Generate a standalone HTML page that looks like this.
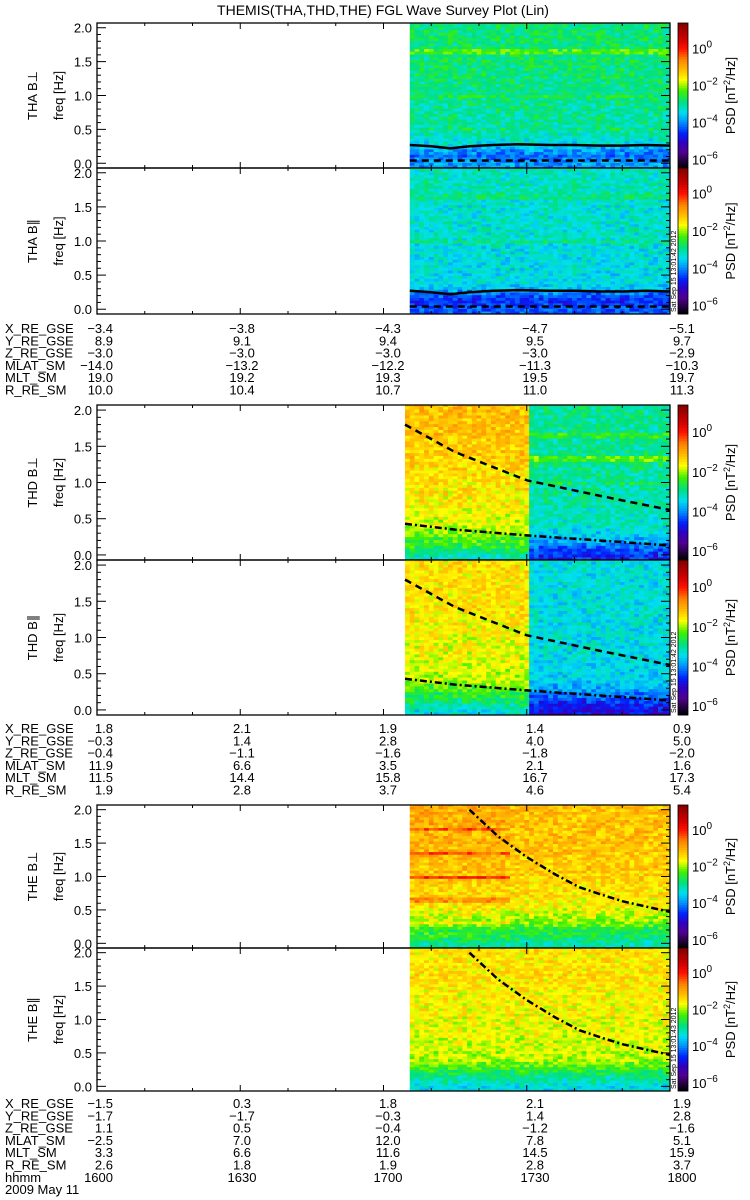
<!DOCTYPE html>
<html><head><meta charset="utf-8">
<style>
html,body{margin:0;padding:0;background:#fff;}
svg{display:block;font-family:"Liberation Sans",sans-serif;}
</style></head>
<body>
<svg id="chart" width="750" height="1200" viewBox="0 0 750 1200" xmlns="http://www.w3.org/2000/svg">
<rect x="0" y="0" width="750" height="1200" fill="#fff"/>
<text x="383" y="15" text-anchor="middle" font-size="14">THEMIS(THA,THD,THE) FGL Wave Survey Plot (Lin)</text>
<g id="layer"></g>
</svg>
<script>
// ---- data arrays ----
var freqNodes = [0,0.1,0.2,0.3,0.4,0.5,0.6,0.7,0.8,0.9,1.0,1.1,1.2,1.3,1.4,1.5,1.6,1.7,1.8,1.9,2.0];
var thaPerpProfile = [-3.9,-4.2,-3.9,-3.4,-3.2,-3.1,-3.1,-3.0,-3.0,-2.95,-2.95,-2.9,-2.9,-2.85,-2.85,-2.85,-2.85,-2.85,-2.85,-2.85,-2.85];
var thaParProfile = [-4.3,-4.6,-4.3,-3.7,-3.5,-3.5,-3.4,-3.4,-3.4,-3.4,-3.3,-3.3,-3.3,-3.3,-3.3,-3.3,-3.3,-3.2,-3.2,-3.2,-3.2];
var thdPerpProfileA = [-3.2,-2.6,-2.4,-2.1,-1.9,-1.8,-1.7,-1.6,-1.6,-1.5,-1.5,-1.5,-1.4,-1.4,-1.3,-1.3,-1.3,-1.2,-1.2,-1.2,-1.2];
var thdPerpProfileB = [-4.6,-4.3,-3.8,-3.5,-3.3,-3.2,-3.2,-3.1,-3.1,-3.1,-3.1,-3.0,-3.0,-2.9,-3.0,-3.0,-3.0,-3.0,-3.0,-3.0,-3.0];
var thdParProfileA = [-3.4,-2.9,-2.6,-2.3,-2.0,-1.9,-1.8,-1.8,-1.7,-1.7,-1.7,-1.6,-1.6,-1.6,-1.5,-1.5,-1.5,-1.5,-1.5,-1.5,-1.5];
var thdParProfileB = [-4.9,-4.6,-4.2,-3.8,-3.6,-3.5,-3.5,-3.5,-3.4,-3.4,-3.4,-3.4,-3.4,-3.4,-3.4,-3.4,-3.4,-3.4,-3.4,-3.4,-3.4];
var thePerpProfileA = [-3.0,-2.6,-2.5,-2.1,-1.8,-1.6,-1.5,-1.4,-1.4,-1.3,-1.2,-1.2,-1.2,-1.1,-1.1,-1.1,-1.1,-1.1,-1.0,-1.0,-1.0];
var thePerpProfileB = [-3.1,-2.8,-2.6,-2.2,-1.9,-1.7,-1.6,-1.5,-1.5,-1.4,-1.4,-1.3,-1.3,-1.3,-1.2,-1.2,-1.2,-1.2,-1.2,-1.2,-1.2];
var theParProfile = [-3.4,-3.1,-2.7,-2.3,-2.0,-1.9,-1.8,-1.8,-1.7,-1.7,-1.7,-1.6,-1.6,-1.6,-1.6,-1.5,-1.5,-1.5,-1.5,-1.5,-1.5];
// narrow spectral lines [freq, boost]
var thaPerpLines = [[1.65,0.5],[1.0,0.4],[0.5,0.25]];
var thaParLines = [[1.0,0.35],[1.65,0.25]];
var thdPerpLinesB = [[1.65,0.4],[1.33,0.6],[1.0,0.35]];
var thePerpLinesA = [[1.7,0.8],[1.35,0.7],[1.0,1.0],[0.65,0.7],[0.3,0.4]];
// texture variation values
var texture = [0.3,-0.5,0.1,0.6,-0.2,-0.8,0.4,0,-0.3,0.7,-0.6,0.2,-0.1,0.5,-0.4,0.9,-0.7,0.1,0.3,-0.2,0.6,-0.9,0.2,-0.4,0.8,0,-0.5,0.4,-0.1,0.5,-0.3];
// time segments (minutes after 16:00)
var thaStart = 65.5, thdStart = 64.5, thdSwitch = 90.5, theStart = 65.5, theSwitch = 86.5, endMin = 120;
// overlay curves
var thaSolidMins = [65.5,70,74,78,83,88,95,100,105,110,115,120];
var thaSolidFreq = [0.27,0.25,0.22,0.25,0.27,0.28,0.27,0.27,0.26,0.26,0.27,0.26];
var thaDashMins = [65.5,120];
var thaDashFreq = [0.04,0.04];
var thdDashMins = [64.5,75,90,105,120];
var thdDashFreq = [1.8,1.42,1.03,0.82,0.62];
var thdDotMins = [64.5,75,90,105,120];
var thdDotFreq = [0.43,0.35,0.27,0.2,0.13];
var theDotMins = [78,84,90,96,101,106,110,115,120];
var theDotFreq = [2.0,1.6,1.29,1.03,0.84,0.72,0.63,0.55,0.47];
// ephemeris
var ephemNames = ["X_RE_GSE","Y_RE_GSE","Z_RE_GSE","MLAT_SM","MLT_SM","R_RE_SM"];
var thaEphem = [["-3.4","-3.8","-4.3","-4.7","-5.1"],["8.9","9.1","9.4","9.5","9.7"],["-3.0","-3.0","-3.0","-3.0","-2.9"],["-14.0","-13.2","-12.2","-11.3","-10.3"],["19.0","19.2","19.3","19.5","19.7"],["10.0","10.4","10.7","11.0","11.3"]];
var thdEphem = [["1.8","2.1","1.9","1.4","0.9"],["-0.3","1.4","2.8","4.0","5.0"],["-0.4","-1.1","-1.6","-1.8","-2.0"],["11.9","6.6","3.5","2.1","1.6"],["11.5","14.4","15.8","16.7","17.3"],["1.9","2.8","3.7","4.6","5.4"]];
var theEphem = [["-1.5","0.3","1.8","2.1","1.9"],["-1.7","-1.7","-0.3","1.4","2.8"],["1.1","0.5","-0.4","-1.2","-1.6"],["-2.5","7.0","12.0","7.8","5.1"],["3.3","6.6","11.6","14.5","15.9"],["2.6","1.8","1.9","2.8","3.7"]];
var timeLabels = ["1600","1630","1700","1730","1800"];
var freqTicks = ["0.0","0.5","1.0","1.5","2.0"];
var cbTicks = [0,-2,-4,-6];

// ---- geometry ----
var NS="http://www.w3.org/2000/svg";
var layer=document.getElementById('layer');
var X0=97, X1=670, FMIN=-0.07, FMAX=2.07, LMAX=1.37, LMIN=-6.45;
function xs(m){return X0+m*(X1-X0)/120;}
function mk(tag,attrs,parent){var e=document.createElementNS(NS,tag);for(var k in attrs)e.setAttribute(k,attrs[k]);(parent||layer).appendChild(e);return e;}
var cmap=[[1.37,[128,0,0]],[0.5,[208,0,0]],[0,[255,16,0]],[-0.6,[255,128,0]],[-1.2,[255,192,0]],[-1.7,[255,255,0]],[-2.3,[64,240,0]],[-2.9,[0,224,128]],[-3.45,[0,224,240]],[-4.0,[0,144,255]],[-4.6,[0,32,255]],[-5.1,[48,0,192]],[-5.6,[80,0,144]],[-6.45,[0,0,0]]];
function color(l){
  if(l>=cmap[0][0])return 'rgb(128,0,0)';
  for(var i=0;i<cmap.length-1;i++){var a=cmap[i],b=cmap[i+1];
    if(l<=a[0]&&l>=b[0]){var t=(a[0]-l)/(a[0]-b[0]);
      return 'rgb('+[0,1,2].map(function(j){return Math.round(a[1][j]+(b[1][j]-a[1][j])*t);}).join(',')+')';}}
  return 'rgb(0,0,0)';
}
function profAt(p,f){
  if(f<=0)return p[0]; if(f>=2)return p[20];
  var i=Math.floor(f/0.1), t=(f-freqNodes[i])/0.1; return p[i]+(p[i+1]-p[i])*t;
}
function lineBoost(lines,f){var b=0;if(!lines)return b;for(var i=0;i<lines.length;i++){if(Math.abs(f-lines[i][0])<0.025)b+=lines[i][1];}return b;}

function panel(cfg){
  var top=cfg.top,bot=cfg.bottom,H=bot-top;
  function ys(f){return top+(FMAX-f)/(FMAX-FMIN)*H;}
  var g=mk('g',{});
  
  
  var cells=mk('g',{},g);
  
  
  var df=0.04;
  cfg.segments.forEach(function(seg,si){
    for(var m=seg.from;m<seg.to-0.01;m+=1){
      var ci=Math.round(m)+si*5+3;
      for(var f=FMIN;f<FMAX-0.001;f+=df){
        var fr=Math.round((f-FMIN)/df)+2;
        var fc=f+df/2;
        var idx=(fr*fr*3+ci*7+fr*ci*5+ci*ci+cfg.top)%texture.length;
        var lv=profAt(seg.profile,fc)+lineBoost(seg.lines,fc)+0.5*texture[idx];
        var y1=Math.max(top,ys(f+df)), y2=Math.min(bot,ys(f));
        var m2=Math.min(seg.to,m+1);
        var r=mk('rect',{x:xs(m).toFixed(2),y:y1.toFixed(2),width:(xs(m2)-xs(m)+0.3).toFixed(2),height:(y2-y1+0.3).toFixed(2),fill:color(lv)},cells);
        
        
      }
    }
  });
  cfg.curves.forEach(function(c){
    var pts=c.mins.map(function(m,i){return xs(m).toFixed(1)+','+ys(c.freq[i]).toFixed(1);}).join(' ');
    var pl=mk('polyline',{points:pts,fill:'none',stroke:'#000','stroke-width':2.5,'stroke-dasharray':c.dash},g);
    
    
  });
  var fr=mk('rect',{x:X0,y:top,width:X1-X0,height:H,fill:'none',stroke:'#000','stroke-width':1.3},g);
  
  
  var ax=mk('g',{stroke:'#000','stroke-width':1},g);
  
  
  for(var k=0;k<=20;k++){var f=k*0.1,y=ys(f),len=(k%5==0)?9:4;
    mk('line',{x1:X0,y1:y,x2:X0+len,y2:y},ax);
    mk('line',{x1:X1,y1:y,x2:X1-len,y2:y},ax);}
  freqTicks.forEach(function(t,i){
    var tx=mk('text',{x:92,y:ys(i*0.5)+5,'text-anchor':'end','font-size':13,stroke:'none'},g);
    tx.textContent=t;
    
    
  });
  for(var m=0;m<=120;m+=10){var x=xs(m),len=(m%30==0)?6:3;
    mk('line',{x1:x,y1:top,x2:x,y2:top+len},ax);
    mk('line',{x1:x,y1:bot,x2:x,y2:bot-len},ax);}
  var yc=(top+bot)/2;
  var t1=mk('text',{x:0,y:0,transform:'translate(37,'+yc+') rotate(-90)','text-anchor':'middle','font-size':13},g);
  t1.textContent=cfg.label;
  
  
  var t2=mk('text',{x:0,y:0,transform:'translate(63,'+yc+') rotate(-90)','text-anchor':'middle','font-size':13},g);
  t2.textContent='freq [Hz]';
  
  
  var cb=mk('g',{},g);
  
  
  var n=60;
  for(var i=0;i<n;i++){var l=LMAX-(i+0.5)*(LMAX-LMIN)/n;
    mk('rect',{x:678,y:(top+i*H/n).toFixed(2),width:10,height:(H/n+0.4).toFixed(2),fill:color(l)},cb);}
  mk('rect',{x:678,y:top,width:10,height:H,fill:'none',stroke:'#000','stroke-width':0.8},cb);
  cbTicks.forEach(function(l){
    var y=top+(LMAX-l)/(LMAX-LMIN)*H;
    var tx=mk('text',{x:692,y:y+5,'font-size':13},cb);
    
    
    var s1=mk('tspan',{},tx);s1.textContent='10';
    var s2=mk('tspan',{dy:-6,'font-size':10},tx);s2.textContent=(l==0?'0':('\u2212'+(-l)));
  });
  var pt=mk('text',{x:0,y:0,transform:'translate(735,'+yc+') rotate(-90)','text-anchor':'middle','font-size':13},cb);
  
  
  var p1=mk('tspan',{},pt);p1.textContent='PSD [nT';
  var p2=mk('tspan',{dy:-5,'font-size':9},pt);p2.textContent='2';
  var p3=mk('tspan',{dy:5},pt);p3.textContent='/Hz]';
  if(cfg.stamp){
    var st=mk('text',{x:0,y:0,transform:'translate(676,'+(bot-2)+') rotate(-90)','font-size':7},g);
    st.textContent=cfg.stamp;
    
    
  }
}

function ephem(baseline,vals,withTime){
  var g=mk('g',{'font-size':13});
  
  
  var cols=[113,242,388,535,682];
  var rows=vals.slice();
  var names=ephemNames.slice();
  if(withTime){rows.push(timeLabels);names.push('hhmm');}
  rows.forEach(function(r,i){
    var y=baseline+i*12.3;
    var nt=mk('text',{x:5,y:y},g);nt.textContent=names[i];
    
    
    r.forEach(function(v,j){
      var t=mk('text',{x:cols[j],y:y,'text-anchor':j==0?'end':'middle'},g);
      t.textContent=v.replace('-','\u2212');
      
      
    });
  });
  if(withTime){var d=mk('text',{x:5,y:baseline+7*12.3},g);d.textContent='2009 May 11';
    
    }
}

var thaCurves=[{name:'tha-fce-line',mins:thaSolidMins,freq:thaSolidFreq,dash:'none'},{name:'tha-dashed-line',mins:thaDashMins,freq:thaDashFreq,dash:'7,5'}];
panel({name:'tha-bperp-panel',label:'THA B\u22a5',top:23,bottom:168,segments:[{from:thaStart,to:endMin,profile:thaPerpProfile,lines:thaPerpLines}],curves:thaCurves});
panel({name:'tha-bpar-panel',label:'THA B\u2225',top:168,bottom:314,segments:[{from:thaStart,to:endMin,profile:thaParProfile,lines:thaParLines}],curves:thaCurves,stamp:'Sat Sep 15 13:01:42 2012'});
ephem(333,thaEphem,false);
var thdCurves=[{name:'thd-dashed-line',mins:thdDashMins,freq:thdDashFreq,dash:'7,5'},{name:'thd-dashdot-line',mins:thdDotMins,freq:thdDotFreq,dash:'7,3,2,3'}];
panel({name:'thd-bperp-panel',label:'THD B\u22a5',top:405,bottom:560,segments:[{from:thdStart,to:thdSwitch,profile:thdPerpProfileA},{from:thdSwitch,to:endMin,profile:thdPerpProfileB,lines:thdPerpLinesB}],curves:thdCurves});
panel({name:'thd-bpar-panel',label:'THD B\u2225',top:560,bottom:715,segments:[{from:thdStart,to:thdSwitch,profile:thdParProfileA},{from:thdSwitch,to:endMin,profile:thdParProfileB}],curves:thdCurves,stamp:'Sat Sep 15 13:01:42 2012'});
ephem(733,thdEphem,false);
var theCurves=[{name:'the-dashdot-line',mins:theDotMins,freq:theDotFreq,dash:'7,3,2,3'}];
panel({name:'the-bperp-panel',label:'THE B\u22a5',top:805,bottom:948,segments:[{from:theStart,to:theSwitch,profile:thePerpProfileA,lines:thePerpLinesA},{from:theSwitch,to:endMin,profile:thePerpProfileB}],curves:theCurves});
panel({name:'the-bpar-panel',label:'THE B\u2225',top:948,bottom:1091,segments:[{from:theStart,to:endMin,profile:theParProfile}],curves:theCurves,stamp:'Sat Sep 15 13:01:43 2012'});
ephem(1108,theEphem,true);
</script>
</body></html>
